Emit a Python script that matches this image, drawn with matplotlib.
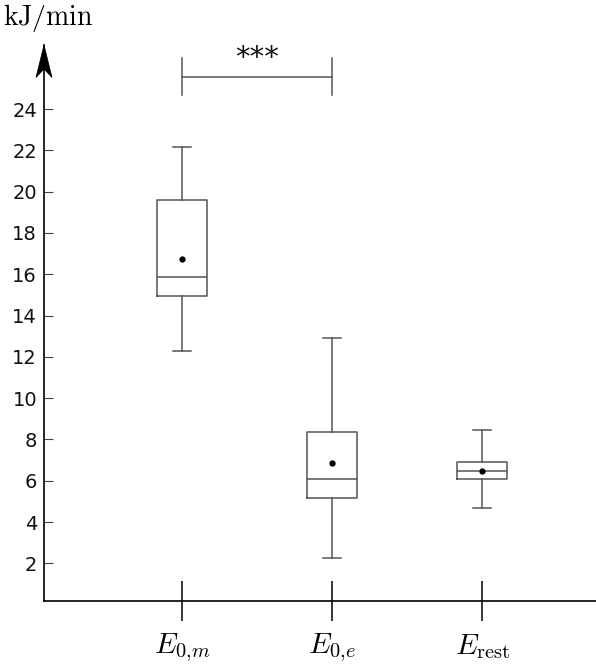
import matplotlib
matplotlib.use("Agg")
import matplotlib.pyplot as plt
from matplotlib.patches import Polygon

plt.rcParams['mathtext.fontset'] = 'cm'
plt.rcParams['font.family'] = ['DejaVu Sans']

# Data
categories = [r'$E_{0{,}m}$', r'$E_{0{,}e}$', r'$E_{\mathrm{rest}}$']
whislo = [12.3, 2.26, 4.70]
q1 = [14.95, 5.14, 6.10]
med = [15.85, 6.07, 6.49]
q3 = [19.60, 8.36, 6.90]
whishi = [22.18, 12.89, 8.45]
means = [16.72, 6.88, 6.49]
yticks = [2, 4, 6, 8, 10, 12, 14, 16, 18, 20, 22, 24]
sig_label = '***'
sig_pair = (1, 2)

W, H = 596, 667
fig = plt.figure(figsize=(W / 100, H / 100), dpi=100)
ax = fig.add_axes([44 / W, (H - 600.7) / H, (W - 44) / W, (600.7 - 45) / H])

stats = []
for i in range(len(categories)):
    stats.append(dict(whislo=whislo[i], q1=q1[i], med=med[i], q3=q3[i],
                      whishi=whishi[i], mean=means[i], fliers=[]))

gray = '#555555'
ax.bxp(stats, positions=[1, 2, 3], widths=0.333, capwidths=0.12,
       showmeans=True, showfliers=False,
       boxprops=dict(color=gray, linewidth=1.1),
       whiskerprops=dict(color=gray, linewidth=1.1),
       capprops=dict(color=gray, linewidth=1.1),
       medianprops=dict(color=gray, linewidth=1.1),
       meanprops=dict(marker='o', markerfacecolor='black', markeredgecolor='black',
                      markersize=3.5))

ax.set_xlim(0.08, 3.757)
ax.set_ylim(0.19, 27.1)

for s in ['top', 'right']:
    ax.spines[s].set_visible(False)
for s in ['left', 'bottom']:
    ax.spines[s].set_linewidth(1.2)
    ax.spines[s].set_color('black')

ax.set_yticks(yticks)
ax.set_yticklabels([str(v) for v in yticks])
ax.tick_params(axis='y', direction='in', length=6.5, width=0.8, color='#444444',
               labelsize=14, pad=5, labelcolor='#111111')
ax.set_xticks([1, 2, 3])
ax.set_xticklabels(categories)
ax.tick_params(axis='x', direction='inout', length=28.5, width=1.1, color='black',
               labelsize=21, pad=8)

# arrow head on the y axis (stealth style), in pixel coords
pts = [(44, 45), (36, 77.5), (44, 69), (52, 77.5)]
poly = Polygon([(x / W, 1 - y / H) for x, y in pts], closed=True,
               transform=fig.transFigure, facecolor='black', edgecolor='black',
               linewidth=0.5, clip_on=False)
fig.patches.append(poly)

# significance bracket
bar_y, tick_lo, tick_hi = 25.56, 24.68, 26.45
x1, x2 = sig_pair
ax.plot([x1, x2], [bar_y, bar_y], color=gray, linewidth=1.1, clip_on=False)
ax.plot([x1, x1], [tick_lo, tick_hi], color=gray, linewidth=1.1, clip_on=False)
ax.plot([x2, x2], [tick_lo, tick_hi], color=gray, linewidth=1.1, clip_on=False)
ax.text((x1 + x2) / 2, 26.1, sig_label, ha='center', va='baseline', fontsize=21,
        color='#111111', clip_on=False)

fig.text(3 / W, 1 - 25 / H, r'$\mathrm{kJ/min}$', fontsize=20, ha='left',
         va='baseline')

fig.savefig('out.png', dpi=100)
